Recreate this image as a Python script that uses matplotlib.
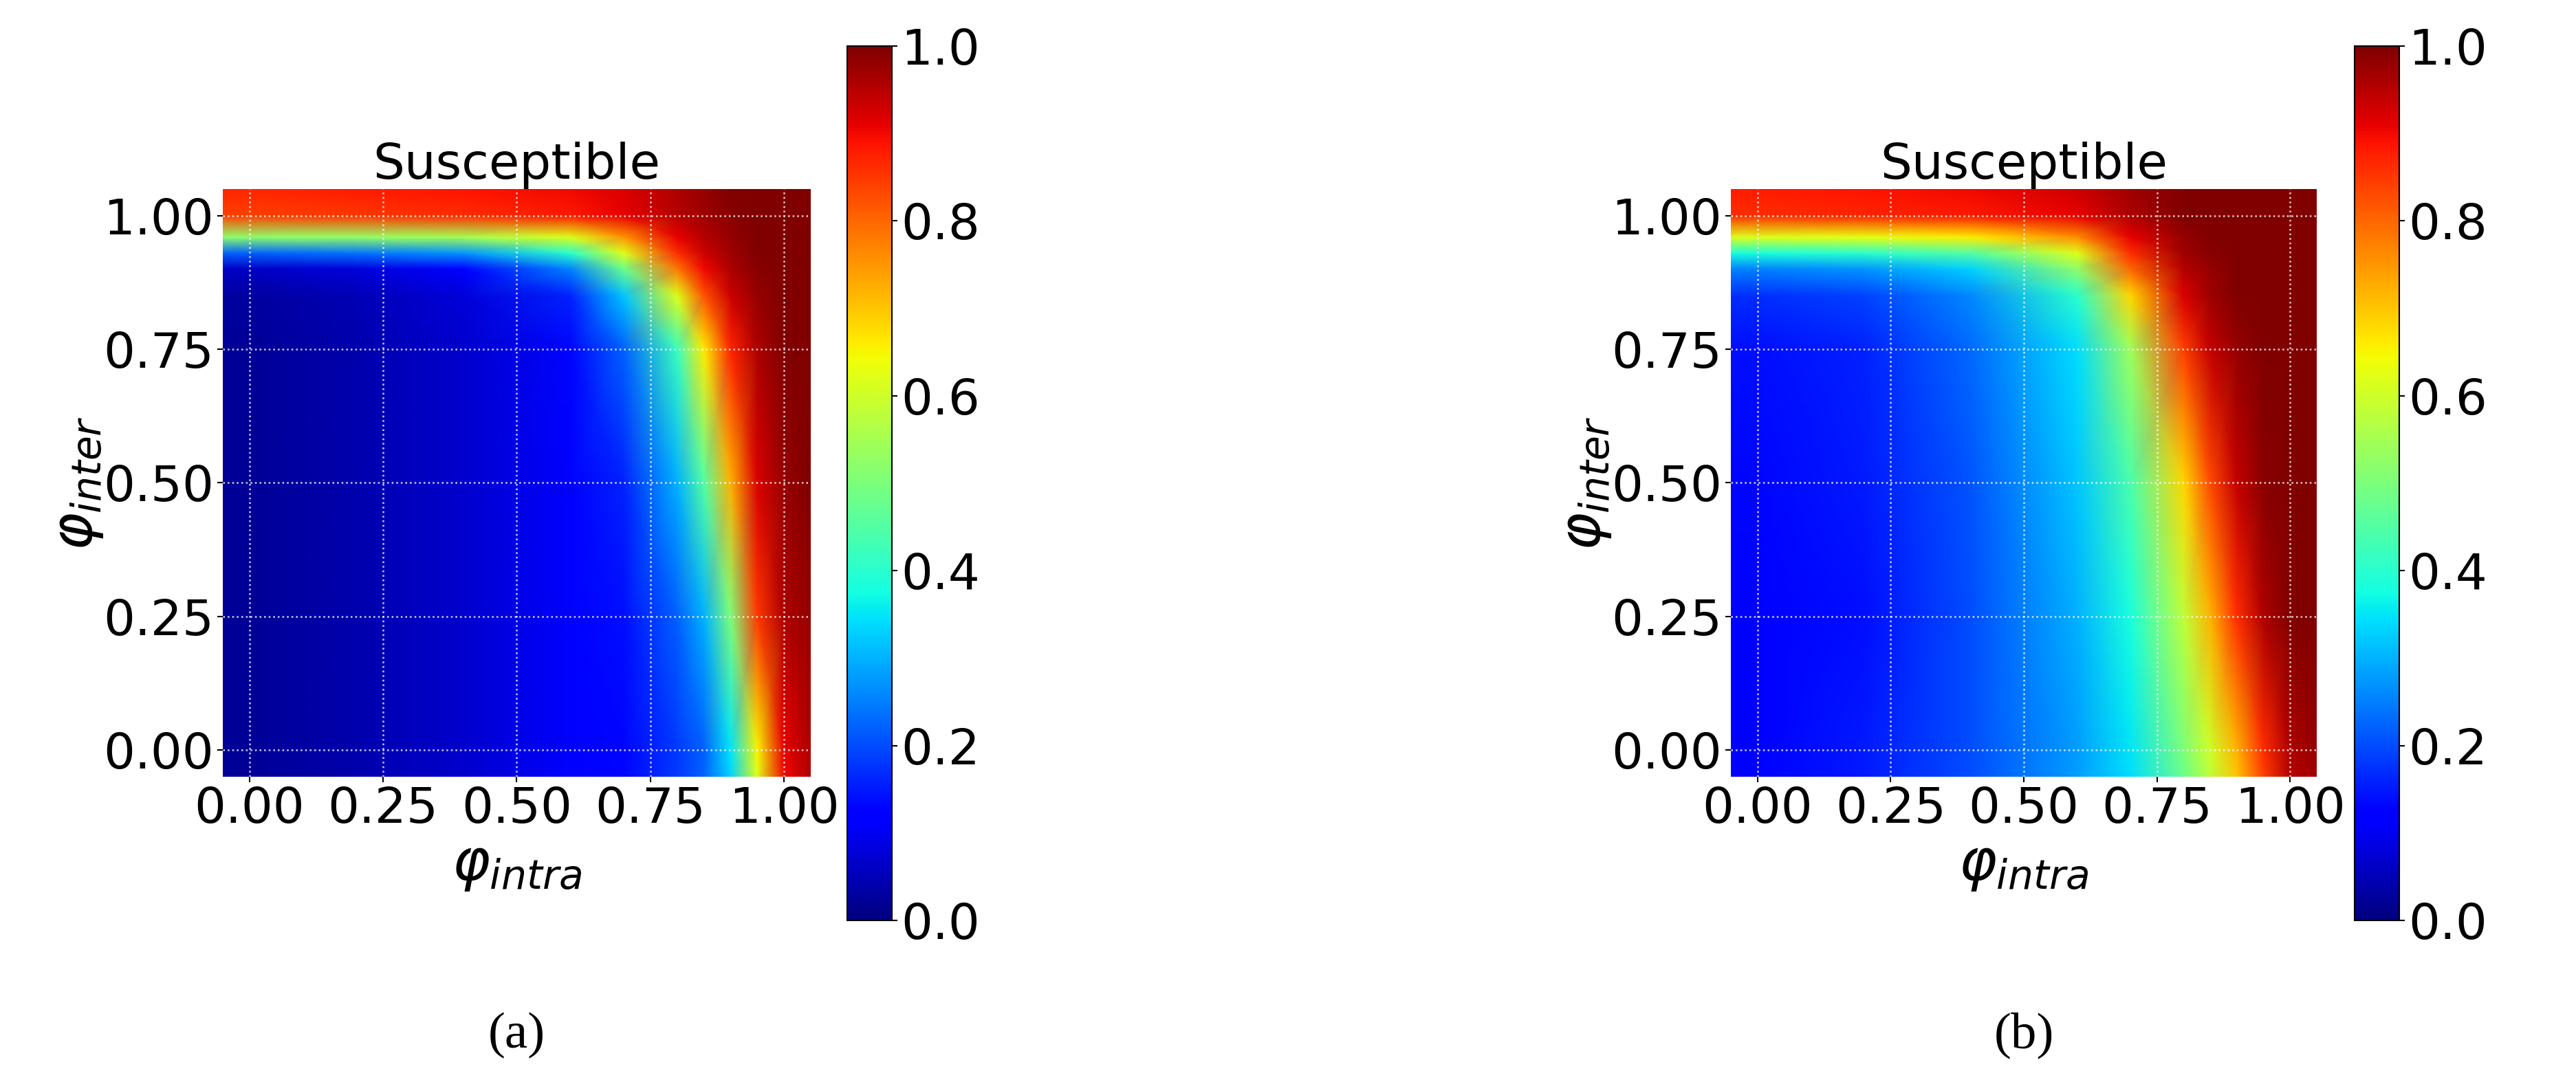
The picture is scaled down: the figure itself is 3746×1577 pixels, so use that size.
import numpy as np
import matplotlib
matplotlib.use("Agg")
import matplotlib.pyplot as plt

# grid points (phi_intra along x, phi_inter along y)
phi_intra = [-0.05, 0.0, 0.2, 0.4, 0.6, 0.7, 0.8, 0.85, 0.9, 0.95, 1.0, 1.05]
phi_inter = [-0.05, 0.0, 0.25, 0.5, 0.75, 0.85, 0.9, 0.93, 0.96, 1.0, 1.05]

# panel (a): one row per phi_inter value, bottom to top
susc_a = [
    [0.02, 0.02, 0.04, 0.07, 0.11, 0.13, 0.18, 0.22, 0.33, 0.62, 0.90, 0.96],
    [0.02, 0.02, 0.04, 0.07, 0.11, 0.13, 0.18, 0.22, 0.35, 0.65, 0.91, 0.96],
    [0.02, 0.02, 0.04, 0.07, 0.11, 0.14, 0.22, 0.30, 0.50, 0.85, 0.96, 0.98],
    [0.02, 0.02, 0.04, 0.07, 0.12, 0.16, 0.30, 0.45, 0.72, 0.92, 0.98, 1.00],
    [0.02, 0.02, 0.04, 0.07, 0.13, 0.22, 0.42, 0.66, 0.87, 0.96, 1.00, 1.00],
    [0.03, 0.03, 0.05, 0.08, 0.16, 0.32, 0.62, 0.82, 0.93, 0.98, 1.00, 1.00],
    [0.06, 0.06, 0.08, 0.12, 0.25, 0.48, 0.78, 0.90, 0.96, 0.99, 1.00, 1.00],
    [0.22, 0.22, 0.24, 0.27, 0.40, 0.62, 0.86, 0.93, 0.97, 1.00, 1.00, 1.00],
    [0.52, 0.52, 0.53, 0.55, 0.62, 0.75, 0.91, 0.95, 0.98, 1.00, 1.00, 1.00],
    [0.84, 0.84, 0.85, 0.86, 0.88, 0.91, 0.95, 0.97, 0.99, 1.00, 1.00, 1.00],
    [0.87, 0.87, 0.88, 0.89, 0.90, 0.92, 0.96, 0.98, 1.00, 1.00, 1.00, 1.00],
]

# panel (b)
susc_b = [
    [0.12, 0.12, 0.15, 0.20, 0.28, 0.34, 0.48, 0.58, 0.70, 0.84, 0.95, 0.97],
    [0.12, 0.12, 0.15, 0.20, 0.28, 0.35, 0.50, 0.60, 0.72, 0.86, 0.96, 0.98],
    [0.12, 0.12, 0.14, 0.20, 0.30, 0.38, 0.58, 0.72, 0.86, 0.96, 1.00, 1.00],
    [0.13, 0.13, 0.15, 0.21, 0.32, 0.44, 0.68, 0.83, 0.94, 0.99, 1.00, 1.00],
    [0.14, 0.14, 0.16, 0.23, 0.34, 0.54, 0.84, 0.94, 0.98, 1.00, 1.00, 1.00],
    [0.17, 0.17, 0.19, 0.26, 0.40, 0.68, 0.92, 0.97, 1.00, 1.00, 1.00, 1.00],
    [0.25, 0.25, 0.27, 0.33, 0.52, 0.80, 0.95, 0.98, 1.00, 1.00, 1.00, 1.00],
    [0.38, 0.38, 0.40, 0.45, 0.62, 0.86, 0.97, 0.99, 1.00, 1.00, 1.00, 1.00],
    [0.62, 0.62, 0.63, 0.66, 0.76, 0.91, 0.98, 1.00, 1.00, 1.00, 1.00, 1.00],
    [0.86, 0.86, 0.87, 0.88, 0.91, 0.96, 1.00, 1.00, 1.00, 1.00, 1.00, 1.00],
    [0.88, 0.88, 0.89, 0.90, 0.93, 0.97, 1.00, 1.00, 1.00, 1.00, 1.00, 1.00],
]

ticks = [0.0, 0.25, 0.5, 0.75, 1.0]
cbar_ticks = [0.0, 0.2, 0.4, 0.6, 0.8, 1.0]

W, H = 3746, 1577
fig = plt.figure(figsize=(W / 100, H / 100), dpi=100)


def frac(x0, y0, x1, y1):
    return [x0 / W, 1 - y1 / H, (x1 - x0) / W, (y1 - y0) / H]


panels = [
    (susc_a, frac(324, 275, 1179, 1130), frac(1232, 67, 1297, 1339), "(a)", 751),
    (susc_b, frac(2517, 275, 3369, 1130), frac(3424, 67, 3489, 1339), "(b)", 2943),
]

X, Y = np.meshgrid(phi_intra, phi_inter)
for vals, ax_rect, cb_rect, tag, tag_x in panels:
    ax = fig.add_axes(ax_rect)
    mesh = ax.pcolormesh(X, Y, np.array(vals), cmap="jet", vmin=0, vmax=1,
                         shading="gouraud", rasterized=True)
    ax.set_xlim(-0.05, 1.05)
    ax.set_ylim(-0.05, 1.05)
    ax.set_xticks(ticks)
    ax.set_yticks(ticks)
    ax.set_xticklabels(["0.00", "0.25", "0.50", "0.75", "1.00"])
    ax.set_yticklabels(["0.00", "0.25", "0.50", "0.75", "1.00"])
    ax.tick_params(labelsize=52, length=6, width=1.5)
    ax.grid(True, color="white", linestyle=":", linewidth=1.8, alpha=0.8)
    for s in ax.spines.values():
        s.set_visible(False)
    ax.set_title("Susceptible", fontsize=52, pad=4)
    ax.set_xlabel(r"$\varphi_{intra}$", fontsize=60, labelpad=4)
    ax.set_ylabel(r"$\varphi_{inter}$", fontsize=60, labelpad=-2)

    cax = fig.add_axes(cb_rect)
    cb = fig.colorbar(mesh, cax=cax, ticks=cbar_ticks)
    cb.ax.tick_params(labelsize=52, length=6, width=1.5)
    cb.outline.set_linewidth(1.5)

    fig.text(tag_x / W, 1 - 1506 / H, tag, fontsize=54, ha="center", va="center",
             family="Liberation Serif")

fig.savefig("out.png", dpi=100)
